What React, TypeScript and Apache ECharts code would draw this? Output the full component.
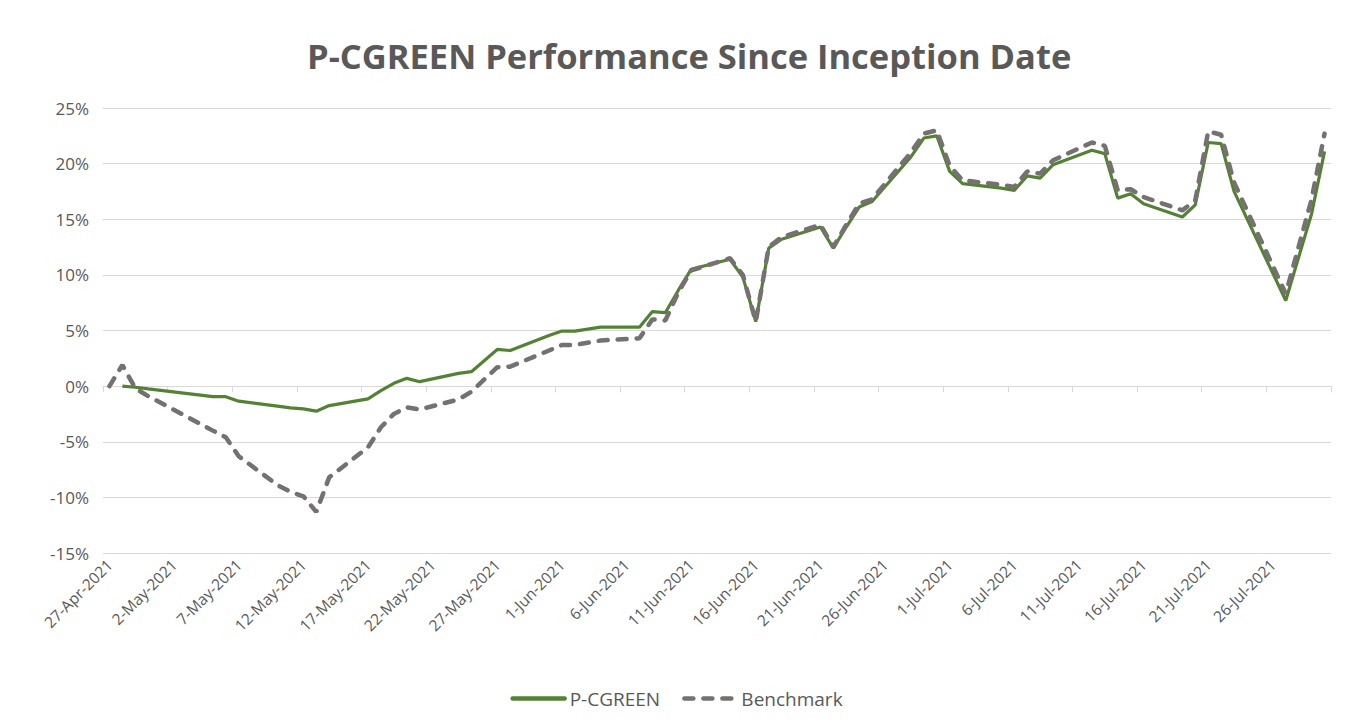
import React, { useEffect, useRef } from "react";
import * as echarts from "echarts";

// Calendar range shown on the axis (one category per day)
const startDay = "2021-04-27";
const dayCount = 95;
const monthNames = ["Jan", "Feb", "Mar", "Apr", "May", "Jun", "Jul", "Aug", "Sep", "Oct", "Nov", "Dec"];

// Trading dates and values (%)
const tradeDates = [
  "27-Apr-2021", "28-Apr-2021", "29-Apr-2021", "30-Apr-2021",
  "5-May-2021", "6-May-2021", "7-May-2021",
  "10-May-2021", "11-May-2021", "12-May-2021", "13-May-2021", "14-May-2021",
  "17-May-2021", "18-May-2021", "19-May-2021", "20-May-2021", "21-May-2021",
  "24-May-2021", "25-May-2021", "27-May-2021", "28-May-2021",
  "31-May-2021", "1-Jun-2021", "2-Jun-2021", "4-Jun-2021",
  "7-Jun-2021", "8-Jun-2021", "9-Jun-2021", "10-Jun-2021", "11-Jun-2021",
  "14-Jun-2021", "15-Jun-2021", "16-Jun-2021", "17-Jun-2021", "18-Jun-2021",
  "21-Jun-2021", "22-Jun-2021", "23-Jun-2021", "24-Jun-2021", "25-Jun-2021",
  "28-Jun-2021", "29-Jun-2021", "30-Jun-2021", "1-Jul-2021", "2-Jul-2021",
  "5-Jul-2021", "6-Jul-2021", "7-Jul-2021", "8-Jul-2021", "9-Jul-2021",
  "12-Jul-2021", "13-Jul-2021", "14-Jul-2021", "15-Jul-2021", "16-Jul-2021",
  "19-Jul-2021", "20-Jul-2021", "21-Jul-2021", "22-Jul-2021", "23-Jul-2021",
  "27-Jul-2021", "29-Jul-2021", "30-Jul-2021",
];

const pcgreen = [
  null, 0.0, -0.1, -0.25,
  -0.95, -0.95, -1.35,
  -1.8, -1.95, -2.05, -2.25, -1.75,
  -1.15, -0.4, 0.25, 0.7, 0.4,
  1.15, 1.3, 3.3, 3.2,
  4.55, 4.95, 4.95, 5.3,
  5.3, 6.7, 6.6, 8.6, 10.5,
  11.4, 9.8, 5.8, 12.4, 13.2,
  14.3, 12.4, 14.3, 16.1, 16.6,
  20.6, 22.3, 22.5, 19.3, 18.2,
  17.8, 17.6, 18.9, 18.7, 19.9,
  21.2, 20.9, 16.9, 17.3, 16.4,
  15.2, 16.3, 21.9, 21.8, 17.5,
  7.7, 15.5, 21.1,
];

const benchmark = [
  0.0, 1.9, -0.2, -0.9,
  -4.0, -4.6, -6.3,
  -8.9, -9.5, -9.9, -11.3, -8.2,
  -5.5, -3.7, -2.5, -1.9, -2.1,
  -1.2, -0.5, 1.7, 1.75,
  3.2, 3.7, 3.7, 4.1,
  4.3, 6.0, 5.9, 8.4, 10.4,
  11.5, 10.0, 5.8, 12.5, 13.4,
  14.5, 12.5, 14.5, 16.4, 16.8,
  21.0, 22.7, 23.0, 19.8, 18.5,
  18.1, 17.9, 19.3, 19.1, 20.3,
  21.9, 21.6, 17.6, 17.7, 17.0,
  15.8, 16.7, 22.9, 22.6, 18.3,
  8.3, 16.8, 22.7,
];

const yTicks = { min: -15, max: 25, interval: 5 };

function buildDays(): string[] {
  const out: string[] = [];
  const base = new Date(startDay + "T00:00:00Z").getTime();
  for (let i = 0; i < dayCount; i++) {
    const d = new Date(base + i * 86400000);
    out.push(`${d.getUTCDate()}-${monthNames[d.getUTCMonth()]}-${d.getUTCFullYear()}`);
  }
  return out;
}

const TEXT = "#595959";
const FONT = "'Open Sans', 'Noto Sans', sans-serif";

export default function App() {
  const ref = useRef<HTMLDivElement>(null);

  useEffect(() => {
    if (!ref.current) return;
    const chart = echarts.init(ref.current, undefined, { renderer: "svg" });
    const days = buildDays();
    const greenData = tradeDates
      .map((d, i) => [d, pcgreen[i]])
      .filter((p) => p[1] !== null);
    const benchData = tradeDates.map((d, i) => [d, benchmark[i]]);

    chart.setOption({
      animation: false,
      backgroundColor: "#ffffff",
      textStyle: { fontFamily: FONT },
      title: {
        text: "P-CGREEN Performance Since Inception Date",
        left: 302,
        top: 33,
        textStyle: { fontFamily: FONT, fontSize: 34.5, fontWeight: "bold", color: TEXT },
      },
      legend: {
        bottom: 12,
        left: "center",
        itemWidth: 52,
        itemHeight: 14,
        itemGap: 22,
        itemStyle: { opacity: 0 },
        lineStyle: { width: 4.5, cap: "round" },
        textStyle: { fontFamily: FONT, fontSize: 19, color: TEXT },
        data: ["P-CGREEN", "Benchmark"],
      },
      grid: { left: 103, right: 22, top: 108, bottom: 172 },
      xAxis: [
        {
          type: "category",
          data: days,
          boundaryGap: true,
          position: "bottom",
          axisLine: { show: true, onZero: true, lineStyle: { color: "#d9d9d9", width: 1 } },
          axisTick: { show: true, interval: 4, length: 6, lineStyle: { color: "#d9d9d9" } },
          axisLabel: { show: false },
          splitLine: { show: false },
        },
        {
          type: "category",
          data: days,
          boundaryGap: true,
          position: "bottom",
          axisLine: { show: false, onZero: false },
          axisTick: { show: false },
          axisLabel: {
            show: true,
            interval: 4,
            rotate: 45,
            margin: 9,
            fontFamily: FONT,
            fontSize: 15.5,
            color: TEXT,
          },
          splitLine: { show: false },
        },
      ],
      yAxis: {
        type: "value",
        min: yTicks.min,
        max: yTicks.max,
        interval: yTicks.interval,
        axisLine: { show: false },
        axisTick: { show: false },
        axisLabel: {
          formatter: "{value}%",
          fontFamily: FONT,
          fontSize: 17,
          color: TEXT,
          margin: 14,
        },
        splitLine: { show: true, lineStyle: { color: "#d9d9d9", width: 1 } },
      },
      series: [
        {
          name: "P-CGREEN",
          type: "line",
          xAxisIndex: 0,
          data: greenData,
          symbol: "none",
          lineStyle: { color: "#548235", width: 3.2 },
          itemStyle: { color: "#548235" },
          z: 2,
        },
        {
          name: "Benchmark",
          type: "line",
          xAxisIndex: 0,
          data: benchData,
          symbol: "none",
          lineStyle: { color: "#767171", width: 4.5, type: [9, 10], cap: "round" },
          itemStyle: { color: "#767171" },
          z: 3,
        },
      ],
    });

    return () => chart.dispose();
  }, []);

  return (
    <div
      ref={ref}
      style={{ position: "fixed", left: 0, top: 0, width: 1353, height: 725, background: "#fff" }}
    />
  );
}
